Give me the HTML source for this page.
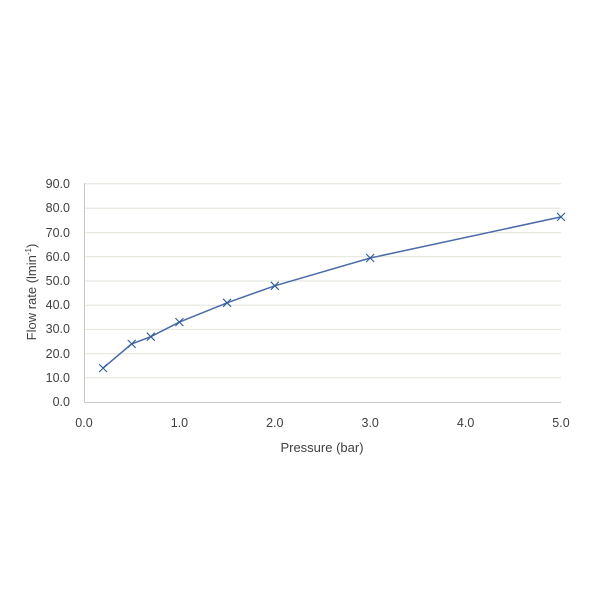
<!DOCTYPE html>
<html><head><style>body{margin:0;background:#fff}</style></head><body>
<svg width="600" height="600" xmlns="http://www.w3.org/2000/svg" font-family="Liberation Sans, DejaVu Sans, sans-serif" font-size="12.5" fill="#404040">
<g stroke="#dfe6d8" stroke-width="1">
<line x1="84" y1="183.8" x2="561" y2="183.8"/><line x1="84" y1="208.2" x2="561" y2="208.2"/><line x1="84" y1="232.6" x2="561" y2="232.6"/><line x1="84" y1="256.8" x2="561" y2="256.8"/><line x1="84" y1="281" x2="561" y2="281"/><line x1="84" y1="305.2" x2="561" y2="305.2"/><line x1="84" y1="329.4" x2="561" y2="329.4"/><line x1="84" y1="353.6" x2="561" y2="353.6"/><line x1="84" y1="377.8" x2="561" y2="377.8"/>
</g>
<line x1="84.5" y1="183" x2="84.5" y2="402" stroke="#c8c8c8"/>
<line x1="84" y1="402.5" x2="561" y2="402.5" stroke="#c8c8c8"/>
<g text-anchor="end">
<text x="70" y="188">90.0</text><text x="70" y="212">80.0</text><text x="70" y="237">70.0</text><text x="70" y="261">60.0</text><text x="70" y="285">50.0</text><text x="70" y="309">40.0</text><text x="70" y="333">30.0</text><text x="70" y="358">20.0</text><text x="70" y="382">10.0</text><text x="70" y="406">0.0</text>
</g>
<g text-anchor="middle">
<text x="84" y="427">0.0</text><text x="179.4" y="427">1.0</text><text x="274.8" y="427">2.0</text><text x="370.2" y="427">3.0</text><text x="465.6" y="427">4.0</text><text x="561" y="427">5.0</text>
<text x="322" y="452" font-size="13">Pressure (bar)</text>
<text transform="translate(36,292) rotate(-90)" font-size="13">Flow rate (lmin<tspan dy="-5" font-size="8">-1</tspan><tspan dy="5">)</tspan></text>
</g>
<polyline fill="none" stroke="#4a6aa8" stroke-width="1.5" points="103.1,368.1 131.7,343.9 150.8,336.7 179.4,322.1 227.1,302.8 274.8,285.8 370.2,258 561,216.9"/>
<g stroke="#2f5d9a" stroke-width="1.1">
<path d="M99.1,364.1l8,8m0,-8l-8,8M127.7,339.9l8,8m0,-8l-8,8M146.8,332.7l8,8m0,-8l-8,8M175.4,318.1l8,8m0,-8l-8,8M223.1,298.8l8,8m0,-8l-8,8M270.8,281.8l8,8m0,-8l-8,8M366.2,254l8,8m0,-8l-8,8M557,212.9l8,8m0,-8l-8,8"/>
</g>
</svg>
</body></html>
